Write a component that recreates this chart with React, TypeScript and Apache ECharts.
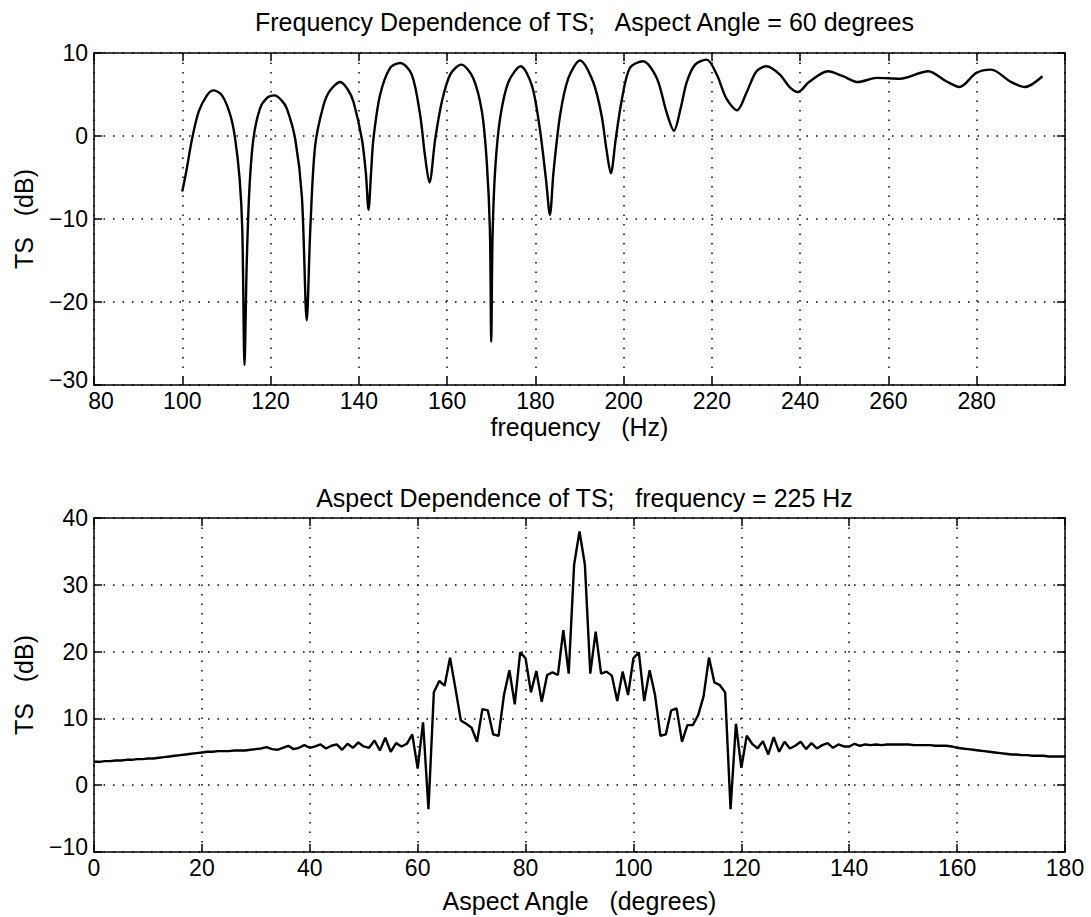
import React, { useEffect, useRef } from "react";
import * as echarts from "echarts";

const topTitle = "Frequency Dependence of TS;   Aspect Angle = 60 degrees";
const bottomTitle = "Aspect Dependence of TS;   frequency = 225 Hz";
const topXName = "frequency   (Hz)";
const bottomXName = "Aspect Angle   (degrees)";
const yName = "TS   (dB)";

// Top panel: frequency sweep (Hz) and target strength (dB)
const freqHz = [
  100, 101, 102.2, 103.7, 105.6, 107.1, 109.0, 110.9, 112.0, 113.0, 113.6, 114.1, 114.6, 115.2, 116.1,
  117.6, 119.2, 120.9, 122.5, 123.7, 125.6, 127.1, 128.2, 129.0, 130.1, 132.0, 133.5, 135.8, 137.5,
  138.8, 140.7, 141.6, 142.2, 142.8, 143.3, 144.8, 147.1, 149.4, 152.0, 153.9, 155.0, 156.0, 157.3,
  158.8, 160.7, 163.2, 165.9, 167.9, 169.0, 169.7, 170.0, 170.3, 170.9, 172.0, 173.9, 176.7, 179.2,
  181.0, 182.4, 183.3, 184.1, 185.6, 187.5, 190.1, 193.1, 195.0, 196.1, 197.1, 198.2, 199.5, 201.4,
  204.4, 207.5, 209.7, 211.4, 212.9, 214.3, 216.2, 218.8, 221.1, 223.3, 225.7, 227.9, 230.1, 232.4,
  235.4, 237.6, 239.5, 242.0, 246.3, 249.7, 253.1, 257.3, 262.6, 269.0, 273.1, 276.1, 279.9, 283.3,
  287.5, 290.9, 294.9,
];
const tsFreqDb = [
  -6.7, -4.0, -0.4, 2.9, 4.9, 5.5, 4.9, 2.5, -0.4, -5.2, -11.3, -27.6, -15.4, -6.5, -0.4,
  3.3, 4.6, 4.9, 4.3, 3.3, -0.4, -7.3, -22.2, -11.3, -1.2, 3.7, 5.5, 6.5, 5.6,
  4.1, -0.4, -4.5, -8.9, -4.2, -0.4, 4.9, 8.2, 8.8, 7.4, 2.5, -2.4, -5.6, -0.4,
  4.1, 7.4, 8.6, 7.0, 2.9, -3.2, -11.3, -24.8, -12.1, -4.0, 2.1, 6.5, 8.4, 6.1,
  0.9, -5.2, -9.5, -4.4, 2.5, 7.0, 9.1, 6.5, 2.5, -1.6, -4.5, -0.4, 4.1, 8.2,
  9.0, 7.0, 2.9, 0.65, 3.3, 6.5, 8.6, 9.2, 7.4, 4.5, 3.1, 5.3, 7.8, 8.4,
  7.4, 5.9, 5.3, 6.5, 7.8, 7.2, 6.5, 7.0, 6.9, 7.8, 6.6, 5.9, 7.6, 8.0,
  6.6, 5.9, 7.2,
];

// Bottom panel: aspect angle (deg) and target strength (dB)
const angleDeg = [
  0, 1, 2, 3, 4, 5, 6, 7, 8, 9, 10, 11, 12, 13, 14, 15, 16, 17, 18, 19,
  20, 21, 22, 23, 24, 25, 26, 27, 28, 29, 30, 31, 32, 33, 34, 35, 36, 37, 38, 39,
  40, 41, 42, 43, 44, 45, 46, 47, 48, 49, 50, 51, 52, 53, 54, 55, 56, 57, 58, 59,
  60, 61, 62, 63, 64, 65, 66, 67, 68, 69, 70, 71, 72, 73, 74, 75, 76, 77, 78, 79,
  80, 81, 82, 83, 84, 85, 86, 87, 88, 89, 90, 91, 92, 93, 94, 95, 96, 97, 98, 99,
  100, 101, 102, 103, 104, 105, 106, 107, 108, 109, 110, 111, 112, 113, 114, 115, 116, 117, 118, 119,
  120, 121, 122, 123, 124, 125, 126, 127, 128, 129, 130, 131, 132, 133, 134, 135, 136, 137, 138, 139,
  140, 141, 142, 143, 144, 145, 146, 147, 148, 149, 150, 151, 152, 153, 154, 155, 156, 157, 158, 159,
  160, 161, 162, 163, 164, 165, 166, 167, 168, 169, 170, 171, 172, 173, 174, 175, 176, 177, 178, 179,
  180,
];
const tsAspectDb = [
  3.5, 3.5, 3.6, 3.6, 3.7, 3.7, 3.8, 3.8, 3.9, 3.9,
  4.0, 4.0, 4.1, 4.2, 4.3, 4.4, 4.5, 4.6, 4.7, 4.8,
  4.9, 5.0, 5.0, 5.1, 5.1, 5.1, 5.2, 5.2, 5.2, 5.3,
  5.4, 5.5, 5.7, 5.4, 5.3, 5.6, 5.9, 5.4, 5.6, 6.0,
  5.6, 5.8, 6.1, 5.5, 5.9, 6.1, 5.3, 6.2, 5.6, 6.4,
  5.8, 5.6, 6.7, 5.2, 7.1, 5.0, 6.3, 5.8, 6.2, 7.6,
  2.5, 9.4, -3.6, 13.9, 15.6, 14.9, 19.1, 14.5, 9.7, 9.2,
  8.6, 6.5, 11.4, 11.2, 7.6, 7.4, 13.5, 17.2, 12.1, 19.9,
  19.0, 13.9, 17.1, 12.5, 16.5, 16.9, 16.5, 23.2, 16.7, 33.0,
  38.0, 33.0, 16.7, 23.0, 16.7, 17.0, 16.4, 12.6, 17.0, 13.5,
  19.0, 19.9, 12.6, 17.2, 13.5, 7.4, 7.6, 11.2, 11.5, 6.5,
  9.0, 9.0, 10.5, 13.3, 19.1, 15.4, 15.0, 13.9, -3.6, 9.2,
  2.6, 7.4, 6.2, 5.5, 6.6, 4.6, 7.2, 5.0, 6.5, 5.5,
  5.9, 6.5, 5.4, 6.3, 5.5, 6.0, 6.3, 5.6, 6.1, 5.8,
  5.8, 6.2, 5.9, 6.1, 6.0, 6.1, 6.0, 6.1, 6.1, 6.1,
  6.1, 6.1, 6.0, 6.0, 6.0, 6.0, 5.9, 5.9, 5.9, 5.8,
  5.6, 5.5, 5.4, 5.3, 5.2, 5.1, 5.0, 4.9, 4.8, 4.7,
  4.6, 4.6, 4.5, 4.5, 4.4, 4.4, 4.4, 4.3, 4.3, 4.3, 4.3,
];

const FONT = "'Liberation Sans', Arial, Helvetica, sans-serif";
const BLACK = "#000";
const TICK_FONT = 23;
const NAME_FONT = 25;

const fmtNum = (v: number) => String(v).replace("-", "\u2212");

function makeX(gridIndex: number, min: number, max: number, name: string, hideMax: boolean, nameGap: number) {
  const common = {
    gridIndex,
    type: "value",
    min,
    max,
    interval: 20,
    axisLine: { show: true, onZero: false, lineStyle: { color: BLACK, width: 1.5 } },
    axisTick: { show: true, inside: true, length: 8, lineStyle: { color: BLACK, width: 1.5 } },
  };
  return [
    {
      ...common,
      position: "bottom",
      axisLabel: {
        color: BLACK,
        fontSize: TICK_FONT,
        fontFamily: FONT,
        margin: 4,
        formatter: (v: number) => {
          if (hideMax && v === max) return "";
          if (v === min && hideMax) return `{lo|${fmtNum(v)}}`;
          return fmtNum(v);
        },
        rich: {
          lo: { color: BLACK, fontSize: TICK_FONT, fontFamily: FONT, padding: [0, 0, 0, 14] },
        },
      },
      splitLine: { show: true, lineStyle: { color: BLACK, width: 1.5, type: [1.5, 8] } },
      name,
      nameLocation: "middle",
      nameGap,
      nameTextStyle: { color: BLACK, fontSize: NAME_FONT, fontFamily: FONT },
    },
    {
      ...common,
      position: "top",
      axisLabel: { show: false },
      splitLine: { show: false },
    },
  ];
}

function makeY(gridIndex: number, min: number, max: number) {
  const common = {
    gridIndex,
    type: "value",
    min,
    max,
    interval: 10,
    axisLine: { show: true, onZero: false, lineStyle: { color: BLACK, width: 1.5 } },
    axisTick: { show: true, inside: true, length: 8, lineStyle: { color: BLACK, width: 1.5 } },
  };
  return [
    {
      ...common,
      position: "left",
      axisLabel: {
        color: BLACK,
        fontSize: TICK_FONT,
        fontFamily: FONT,
        margin: 6,
        formatter: (v: number) => (v === min ? `{lo|${fmtNum(v)}}` : fmtNum(v)),
        rich: {
          lo: { color: BLACK, fontSize: TICK_FONT, fontFamily: FONT, padding: [0, 0, 10, 0] },
        },
      },
      splitLine: { show: true, lineStyle: { color: BLACK, width: 1.5, type: [1.5, 8] } },
      name: yName,
      nameLocation: "middle",
      nameGap: 58,
      nameRotate: 90,
      nameTextStyle: { color: BLACK, fontSize: NAME_FONT, fontFamily: FONT },
    },
    {
      ...common,
      position: "right",
      axisLabel: { show: false },
      splitLine: { show: false },
    },
  ];
}

export default function App() {
  const ref = useRef<HTMLDivElement>(null);
  useEffect(() => {
    if (!ref.current) return;
    const chart = echarts.init(ref.current, null, { renderer: "svg" });
    const topData = freqHz.map((f, i) => [f, tsFreqDb[i]]);
    const bottomData = angleDeg.map((a, i) => [a, tsAspectDb[i]]);
    const option: any = {
      animation: false,
      backgroundColor: "#fff",
      textStyle: { fontFamily: FONT },
      title: [
        {
          text: topTitle,
          left: 579.5,
          top: 4,
          textAlign: "center",
          textStyle: { color: BLACK, fontSize: NAME_FONT, fontWeight: "normal", fontFamily: FONT },
        },
        {
          text: bottomTitle,
          left: 579.5,
          top: 480,
          textAlign: "center",
          textStyle: { color: BLACK, fontSize: NAME_FONT, fontWeight: "normal", fontFamily: FONT },
        },
      ],
      grid: [
        { left: 94, top: 53, width: 971, height: 332 },
        { left: 94, top: 518, width: 971, height: 334 },
      ],
      xAxis: [
        ...makeX(0, 80, 300, topXName, true, 29),
        ...makeX(1, 0, 180, bottomXName, false, 36),
      ],
      yAxis: [...makeY(0, -30, 10), ...makeY(1, -10, 40)],
      series: [
        {
          type: "line",
          xAxisIndex: 0,
          yAxisIndex: 0,
          data: topData,
          symbol: "none",
          smooth: 0.3,
          lineStyle: { color: BLACK, width: 2.4 },
        },
        {
          type: "line",
          xAxisIndex: 2,
          yAxisIndex: 2,
          data: bottomData,
          symbol: "none",
          lineStyle: { color: BLACK, width: 2.4 },
        },
      ],
    };
    chart.setOption(option);
    return () => chart.dispose();
  }, []);
  return (
    <div
      ref={ref}
      style={{ position: "absolute", left: 0, top: 0, width: 1091, height: 917, background: "#fff" }}
    />
  );
}
